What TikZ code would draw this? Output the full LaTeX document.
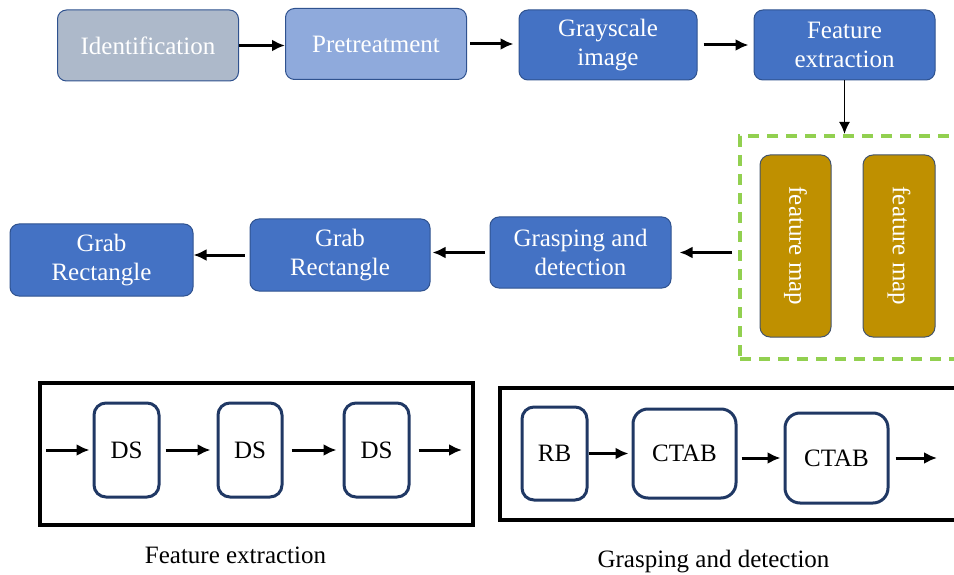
\documentclass[tikz,border=0pt]{standalone}
\usepackage{fontspec}
\setmainfont{Liberation Serif}
\usepackage{xcolor}
\usetikzlibrary{positioning, calc, arrows.meta}

\definecolor{idgray}{HTML}{ADB9CA}
\definecolor{prblue}{HTML}{8FAADC}
\definecolor{stblue}{HTML}{4472C4}
\definecolor{edgeblue}{HTML}{2F528F}
\definecolor{mapgold}{HTML}{BF9000}
\definecolor{mapedge}{HTML}{44546A}
\definecolor{dashgreen}{HTML}{92D050}
\definecolor{unitnavy}{HTML}{203864}

\begin{document}
\begin{tikzpicture}[x=1pt,y=-1pt,
    stage/.style={draw=edgeblue, line width=1pt, rounded corners=9pt, text=white,
      align=center, inner sep=0pt, font=\fontsize{25}{28.5}\selectfont},
    fmap/.style={draw=mapedge, line width=1pt, fill=mapgold, rounded corners=10pt,
      text=white, inner sep=0pt, rotate=-90, font=\fontsize{25}{28.5}\selectfont},
    unit/.style={draw=unitnavy, line width=3pt, fill=white, rounded corners=12pt,
      inner sep=0pt, font=\fontsize{25}{28.5}\selectfont},
    frame/.style={draw=black, line width=4pt, inner sep=0pt},
    arr/.style={line width=3pt, -{Latex[length=13pt,width=12pt]}},
    thinarr/.style={line width=1.8pt, -{Latex[length=12pt,width=11pt]}}]
    \useasboundingbox (0,0) rectangle (954,575);

    % top row
    \node[stage, fill=idgray, minimum width=181pt, minimum height=71pt] (ident) at (148,45.5) {Identification};
    \node[stage, fill=prblue, minimum width=181pt, minimum height=71pt] (pretr) at (376,44) {Pretreatment};
    \node[stage, fill=stblue, minimum width=178pt, minimum height=70pt] (gray) at (608,45) {Grayscale\\image};
    \node[stage, fill=stblue, minimum width=181pt, minimum height=70pt] (feat) at (844.5,45) {Feature\\extraction};
    \draw[arr] (ident.east) -- (ident.east -| pretr.west);
    \draw[arr, shorten <=3pt, shorten >=5pt] (pretr.east) -- (pretr.east -| gray.west);
    \draw[arr, shorten <=6pt, shorten >=5pt] (gray.east) -- (gray.east -| feat.west);

    % feature maps
    \node[draw=dashgreen, line width=4pt, dash pattern=on 11pt off 8pt,
      minimum width=240pt, minimum height=223pt] (mapgroup) at (860,247.5) {};
    \node[fmap, minimum width=182pt, minimum height=71pt] (fm1) at (795.5,246) {feature map};
    \node[fmap, minimum width=182pt, minimum height=72pt] (fm2) at (899,246) {feature map};
    \draw[thinarr] (feat.south) -- (feat.south |- mapgroup.north);

    % middle row
    \node[stage, fill=stblue, minimum width=181pt, minimum height=71pt] (grasp) at (580.5,252.5) {Grasping and\\detection};
    \node[stage, fill=stblue, minimum width=180pt, minimum height=72pt] (grab2) at (340,255) {Grab\\Rectangle};
    \node[stage, fill=stblue, minimum width=183pt, minimum height=72pt] (grab1) at (101.5,260) {Grab\\Rectangle};
    \draw[arr, shorten <=6pt, shorten >=8pt] (mapgroup.west |- grasp.east) -- (grasp.east);
    \draw[arr, shorten <=5pt, shorten >=2pt] (grasp.west) -- (grasp.west -| grab2.east);
    \draw[arr, shorten <=5pt] (grab2.west) -- (grab2.west -| grab1.east);

    % feature extraction block
    \node[frame, minimum width=433pt, minimum height=142pt] (feframe) at (256.5,454) {};
    \node[unit, minimum width=65pt, minimum height=94pt] (ds1) at (126.5,450) {DS};
    \node[unit, minimum width=64pt, minimum height=94pt] (ds2) at (250,450) {DS};
    \node[unit, minimum width=65pt, minimum height=94pt] (ds3) at (376.5,450) {DS};
    \coordinate (fein) at (46,450);
    \coordinate (feout) at (462,450);
    \draw[arr, shorten >=3pt] (fein) -- (ds1.west);
    \draw[arr, shorten <=5pt, shorten >=6pt] (ds1.east) -- (ds2.west);
    \draw[arr, shorten <=8pt, shorten >=6pt] (ds2.east) -- (ds3.west);
    \draw[arr, shorten <=8pt] (ds3.east) -- (feout);

    % grasping and detection block
    \node[frame, minimum width=470pt, minimum height=132pt] (gdframe) at (735,454) {};
    \node[unit, minimum width=65pt, minimum height=93pt] (rb) at (554.5,453.5) {RB};
    \node[unit, rounded corners=15pt, minimum width=103pt, minimum height=89pt] (ctab1) at (684.5,453.5) {CTAB};
    \node[unit, rounded corners=15pt, minimum width=103pt, minimum height=90pt] (ctab2) at (836.5,458) {CTAB};
    \coordinate (gdout) at (937,458);
    \draw[arr, shorten >=3pt] (rb.east) -- (ctab1.west);
    \draw[arr, shorten <=4pt, shorten >=3pt] (ctab1.east |- ctab2.west) -- (ctab2.west);
    \draw[arr, shorten <=6pt] (ctab2.east) -- (gdout);

    % captions
    \node[font=\fontsize{25}{28.5}\selectfont] (fecap) at (235.5,555) {Feature extraction};
    \node[font=\fontsize{25}{28.5}\selectfont] (gdcap) at (713.5,562) {Grasping and detection};
\end{tikzpicture}
\end{document}
